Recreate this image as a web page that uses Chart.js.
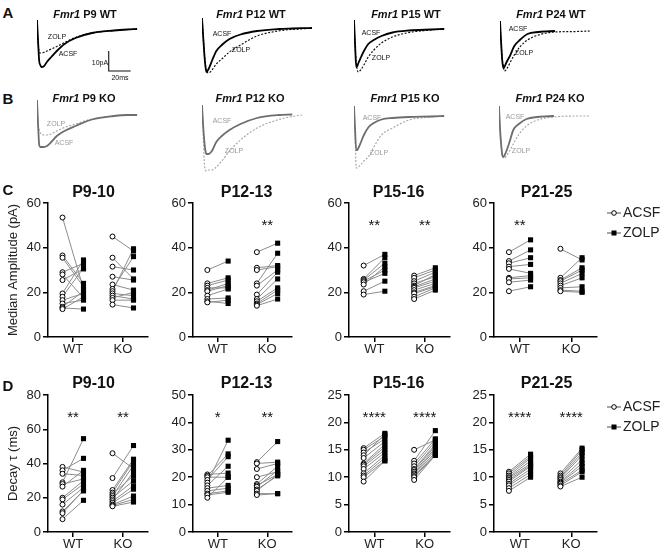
<!DOCTYPE html>
<html><head><meta charset="utf-8">
<script src="https://cdn.jsdelivr.net/npm/chart.js@4.4.1/dist/chart.umd.min.js"></script>
<style>
html,body{margin:0;padding:0;background:#fff;}
#fig{position:relative;width:666px;height:550px;overflow:hidden;font-family:'Liberation Sans',Arial,Helvetica,sans-serif;color:#111;}
canvas{position:absolute;}
.t{position:absolute;transform:translate(-50%,-50%);white-space:nowrap;line-height:1;}
</style></head><body><div id="fig"></div>
<script>
// ---------- DATA ----------
// Panel A/B traces: current (pA) sampled at these times (ms)
const traceTime = [0,1,2,3,4,6,9,13,18,25,35,50,70,82,91,100];
const p9WtAcsf  = [4.5,-6.5,-16,-18,-19,-18.75,-16.5,-14,-11,-7.5,-4.5,-2,-0.75,-0.25,0,null];
const p9WtZolp  = [4.5,-6.5,-11.5,-12,-12,-11.75,-11,-10,-8.75,-6.75,-4.25,-2,-0.75,-0.25,0,null];
const p12WtAcsf = [5.5,-3,-11.5,-18,-21.5,-20,-16,-11,-8,-5,-2.75,-1,0,0.25,0.4,0.5];
const p12WtZolp = [5.5,-3,-11.5,-17.5,-21,-22,-20.5,-17.5,-15,-11.5,-8,-3.5,-0.9,-0.2,0.05,0.5];
const p15WtAcsf = [4.5,-8,-19,-18.5,-17,-14.5,-11,-7.5,-5.5,-3.5,-1.75,-0.75,-0.25,0,null,null];
const p15WtZolp = [4.5,-8,-16.5,-20.5,-21.5,-20.5,-18,-14,-10.5,-7,-4,-1.75,-0.5,0.25,null,null];
const p24WtAcsf = [4,-6.5,-15.5,-19.5,-19,-16.5,-13.5,-8.5,-5.5,-2.5,-1.5,-1,null,null,null,null];
const p24WtZolp = [4,-6.5,-14.5,-18.5,-21,-20,-17,-13,-9,-5.5,-3,-1.5,-1.25,-1,null,null];
const p9KoAcsf  = [7.5,-5,-15,-16,-16,-16,-15.5,-13.5,-10.5,-8,-5.5,-2.25,-0.5,0,0,null];
const p9KoZolp  = [7.5,-5,-7.5,-9,-9.5,-10,-10,-9.5,-8,-6.25,-4.5,-2,-0.5,0,0,null];
const p12KoAcsf = [5,-5,-12.5,-17.5,-19.5,-19.5,-18,-13.5,-10.5,-7.5,-4.5,-1.5,0,0.25,null,null];
const p12KoZolp = [5,-7.5,-22.5,-27.5,-28,-27.5,-27.5,-26,-23,-18,-12.5,-6.5,-2.25,-0.75,0,null];
const p15KoAcsf = [4.5,-7.5,-17.5,-17.5,-16.5,-14,-10,-6.25,-4,-2.25,-1.5,-1,-0.75,-0.5,null,null];
const p15KoZolp = [4.5,-10,-26.5,-26.5,-26,-25,-23,-21,-16,-10,-6.5,-2.5,-1,-0.5,null,null];
const p24KoAcsf = [4.5,-7.5,-15,-20,-21,-19,-14.5,-7.5,-4.5,-2,-1,-0.5,null,null,null,null];
const p24KoZolp = [4.5,-7.5,-15,-20,-21.5,-21,-18.5,-14.5,-9.75,-5.5,-2.5,-1,-0.5,-0.5,null,null];
const scaleBarMs = 20, scaleBarPa = 10;

// Panel C: median amplitude (pA), paired ACSF -> ZOLP
const groups = ['WT','KO'];
const cP9WtAcsf  = [53.5,36.5,35.5,29,28,25.5,19.5,18,16.5,15,13.5,13,12.5];
const cP9WtZolp  = [21.5,24,22.5,33,17.5,30.5,34.5,31,19.5,16.5,20.5,12.5,18];
const cP9KoAcsf  = [45,35.5,31.5,27,23.5,21.5,20.5,19.5,18.5,17.5,16.5,14.5];
const cP9KoZolp  = [38.5,26,30,25.5,21,36,39.5,18.5,17,20,16.5,13];
const cP12WtAcsf = [30,24,23,22,21,20.5,18.5,17,16,15.5];
const cP12WtZolp = [34,26.5,25.5,22,24,23,21.5,17.5,15,16.5];
const cP12KoAcsf = [38,31,30,24,23,19,17,16,15,14.5,14];
const cP12KoZolp = [42,32,31.5,37.5,30,29,26,22,21,19.5,17];
const cP15WtAcsf = [32,26,25.5,25,24.5,23.5,20.5,19];
const cP15WtZolp = [37,35.5,33,30,28.5,31.5,25,20.5];
const cP15KoAcsf = [27.5,26.5,25,24,23,22.5,22,21,20,19.5,18,17];
const cP15KoZolp = [31,30,29,27,28,26,25,24,23,22.5,22,21];
const cP21WtAcsf = [38,34,33,31.5,30.5,26.5,26,24.5,20.5];
const cP21WtZolp = [43.5,39,35.5,32.5,28.5,27.5,26.5,25.5,22.5];
const cP21KoAcsf = [39.5,26.5,25.5,25,24,23,22,21,20.5];
const cP21KoZolp = [34.5,35.5,31,30,28.5,26.5,22.5,20.5,20];
const cStars = [['',''],['','**'],['**','**'],['**','']];
const cAxisMax = [60,60,60,60], cAxisStep = [20,20,20,20];

// Panel D: decay tau (ms)
const dP9WtAcsf  = [38,36,34,29,28,26.5,20,19,16,12,11,7.5];
const dP9WtZolp  = [35,43,33,54.5,31,36,30,28,26,24,24.5,18.5];
const dP9KoAcsf  = [46,31.5,24.5,23,22,21,20,19,18,17,16,15.5,15];
const dP9KoZolp  = [37,50.5,42.5,41.5,33,39,30,35,27,25,21,19,17.5];
const dP12WtAcsf = [21,20.5,20,19,18,17,16,15,14,13.5,12.5];
const dP12WtZolp = [21.5,28.5,20,27.5,33.5,24,17,16,15,14.5,20];
const dP12KoAcsf = [25.5,25,23,20,17.5,17,16.5,15.5,15,14,13.5];
const dP12KoZolp = [33,25.5,25,22,24,21,22.5,20.5,21,14,14];
const dP15WtAcsf = [15.3,15,14.5,14,13.5,12.5,12.3,12,11.5,10.7,10.3,10,9.2];
const dP15WtZolp = [18,17.5,17,17.8,16.5,16,15.5,15,14.5,14,13.5,13,13];
const dP15KoAcsf = [15,13,12.5,12,11.5,11.3,11,10.7,10.5,10.2,10,9.5];
const dP15KoZolp = [16.8,18.5,17,16.5,16,15.7,15.3,15,14.5,14.2,14,14];
const dP21WtAcsf = [11,10.7,10.3,10,9.8,9.5,9.2,8.8,8.5,8,7.5];
const dP21WtZolp = [14.2,13.8,13.5,13,12.5,12.2,12,11.5,11,10.5,10];
const dP21KoAcsf = [10.7,10.3,10,9.8,9.5,9.2,9,8.8,8.5,8.3];
const dP21KoZolp = [15.3,15,14.5,14,13.2,12.5,12,11.3,11,10];
const dStars = [['**','**'],['*','**'],['****','****'],['****','****']];
const dAxisMax = [80,50,25,25], dAxisStep = [20,10,5,5];
const ageTitles = ['P9-10','P12-13','P15-16','P21-25'];
const seriesNames = ['ACSF','ZOLP'];

// ---------- RENDER ----------
const FONT = "'Liberation Sans', Arial, Helvetica, sans-serif";
const fig = document.getElementById('fig');

function addText(html, x, y, size, o = {}) {
  const d = document.createElement('div');
  d.className = 't';
  d.innerHTML = html;
  d.style.left = x + 'px'; d.style.top = y + 'px';
  d.style.fontSize = size + 'px';
  if (o.bold) d.style.fontWeight = 'bold';
  if (o.color) d.style.color = o.color;
  fig.appendChild(d);
}
function makeCanvas(left, top, w, h) {
  const c = document.createElement('canvas');
  c.width = w; c.height = h;
  c.style.left = left + 'px'; c.style.top = top + 'px';
  c.style.width = w + 'px'; c.style.height = h + 'px';
  fig.appendChild(c);
  return c;
}

// ---- traces ----
function makeTrace(left, top, h, yMax, yMin, acsf, zolp, colA, colZ, extra) {
  const c = makeCanvas(left, top, 110, h);
  const pts = arr => traceTime.map((t, i) => ({x: t, y: arr[i]})).filter(p => p.y !== null);
  const ds = [
    {data: pts(zolp), showLine: true, borderColor: colZ, borderWidth: 1.2, borderDash: [2, 1.6],
     pointRadius: 0, cubicInterpolationMode: 'monotone', clip: false, order: 1},
    {data: pts(acsf), showLine: true, borderColor: colA, borderWidth: 1.8,
     pointRadius: 0, cubicInterpolationMode: 'monotone', clip: false, order: 0}
  ];
  if (extra) ds.push(extra);
  new Chart(c, {type: 'scatter', data: {datasets: ds}, options: {
    responsive: false, animation: false, events: [], layout: {padding: 0},
    scales: {x: {type: 'linear', display: false, min: 0, max: 100},
             y: {type: 'linear', display: false, min: yMin, max: yMax}},
    plugins: {legend: {display: false}, tooltip: {enabled: false}}
  }});
}
const sbT = 65.2, sbI = -21;
const scaleBar = {data: [{x: sbT, y: sbI + scaleBarPa}, {x: sbT, y: sbI}, {x: sbT + scaleBarMs, y: sbI}],
  showLine: true, borderColor: '#111', borderWidth: 1.1, pointRadius: 0, tension: 0, clip: false, order: 2};

const rowA = {top: 18, h: 60, max: 5.5, min: -24.5};
const rowB = {top: 98, h: 74, max: 8.5, min: -28.5};
makeTrace(37, rowA.top, rowA.h, rowA.max, rowA.min, p9WtAcsf, p9WtZolp, '#000', '#111', scaleBar);
makeTrace(202, rowA.top, rowA.h, rowA.max, rowA.min, p12WtAcsf, p12WtZolp, '#000', '#111');
makeTrace(354, rowA.top, rowA.h, rowA.max, rowA.min, p15WtAcsf, p15WtZolp, '#000', '#111');
makeTrace(500, rowA.top, rowA.h, rowA.max, rowA.min, p24WtAcsf, p24WtZolp, '#000', '#111');
makeTrace(37, rowB.top, rowB.h, rowB.max, rowB.min, p9KoAcsf, p9KoZolp, '#6e6e6e', '#a8a8a8');
makeTrace(202, rowB.top, rowB.h, rowB.max, rowB.min, p12KoAcsf, p12KoZolp, '#6e6e6e', '#a8a8a8');
makeTrace(354, rowB.top, rowB.h, rowB.max, rowB.min, p15KoAcsf, p15KoZolp, '#6e6e6e', '#a8a8a8');
makeTrace(499, rowB.top, rowB.h, rowB.max, rowB.min, p24KoAcsf, p24KoZolp, '#6e6e6e', '#a8a8a8');

// ---- scatter panels ----
const starPlugin = {
  id: 'stars',
  afterDatasetsDraw(chart, args, opts) {
    const {ctx} = chart; const x = chart.scales.x, y = chart.scales.y;
    ctx.save();
    ctx.font = '15px ' + FONT; ctx.fillStyle = '#111';
    ctx.textAlign = 'center'; ctx.textBaseline = 'alphabetic';
    (opts.marks || []).forEach((s, i) => {
      if (!s) return;
      ctx.fillText(s, x.getPixelForValue(i + 1), y.getPixelForValue(opts.level * y.max) + 8.8);
    });
    ctx.restore();
  }
};
const legendPlugin = {
  id: 'pairLegend',
  afterDraw(chart, args, opts) {
    if (!opts.show) return;
    const {ctx} = chart;
    ctx.save();
    seriesNames.forEach((name, i) => {
      const y = opts.y + i * opts.gap, x = opts.x;
      ctx.strokeStyle = '#6a6a6a'; ctx.lineWidth = 1.2;
      ctx.beginPath(); ctx.moveTo(x - 1, y); ctx.lineTo(x + 13, y); ctx.stroke();
      if (i === 0) {
        ctx.beginPath(); ctx.arc(x + 6, y, 2.3, 0, Math.PI * 2);
        ctx.fillStyle = '#fff'; ctx.fill(); ctx.strokeStyle = '#000'; ctx.lineWidth = 1; ctx.stroke();
      } else {
        ctx.fillStyle = '#000'; ctx.fillRect(x + 3.5, y - 2.5, 5, 5);
      }
      ctx.fillStyle = '#222'; ctx.font = '14px ' + FONT;
      ctx.textAlign = 'left'; ctx.textBaseline = 'middle';
      ctx.fillText(name, x + 15, y + 0.5);
    });
    ctx.restore();
  }
};

function makeScatter(p) {
  const yw = p.yTitle ? p.left : 40;
  const cLeft = p.left - yw;
  const padRight = p.legend ? 666 - p.right : 6;
  const padTop = p.top - p.canvasTop;
  const xh = 25;
  const w = yw + (p.right - p.left) + padRight;
  const h = padTop + (p.bottom - p.top) + xh;
  const c = makeCanvas(cLeft, p.canvasTop, w, h);
  const off = 0.21;
  const ds = [];
  const acsfPts = [], zolpPts = [];
  p.series.forEach(([acsf, zolp], g) => {
    acsf.forEach((v, i) => {
      ds.push({data: [{x: g + 1 - off, y: v}, {x: g + 1 + off, y: zolp[i]}], showLine: true,
        borderColor: '#8c8c8c', borderWidth: 1, pointRadius: 0, order: 3});
      acsfPts.push({x: g + 1 - off, y: v});
      zolpPts.push({x: g + 1 + off, y: zolp[i]});
    });
  });
  ds.push({label: 'ACSF', data: acsfPts, pointStyle: 'circle', pointRadius: 2.5, pointBorderWidth: 1,
    pointBackgroundColor: '#fff', pointBorderColor: '#000', backgroundColor: '#fff', borderColor: '#000', order: 1});
  ds.push({label: 'ZOLP', data: zolpPts, pointStyle: 'rect', pointRadius: 3.6, pointBorderWidth: 0,
    pointBackgroundColor: '#000', pointBorderColor: '#000', backgroundColor: '#000', borderColor: '#000', order: 0});
  const axisCommon = {
    grid: {display: true, drawOnChartArea: false, drawTicks: true, tickLength: 5, color: '#000', lineWidth: 1.5},
    border: {display: true, color: '#000', width: 1.5}
  };
  new Chart(c, {type: 'scatter', data: {datasets: ds}, plugins: [starPlugin, legendPlugin], options: {
    responsive: false, animation: false, events: [],
    layout: {padding: {left: 0, top: padTop, right: padRight, bottom: 0}},
    scales: {
      x: Object.assign({type: 'linear', min: 0.5, max: 2.5,
        afterBuildTicks: s => { s.ticks = groups.map((g, i) => ({value: i + 1})); },
        afterFit: s => { s.height = xh; },
        ticks: {autoSkip: false, maxRotation: 0, padding: 0, color: '#222', font: {size: 13, family: FONT},
          callback: v => groups[Math.round(v) - 1] || ''}}, axisCommon),
      y: Object.assign({type: 'linear', min: 0, max: p.max,
        afterFit: s => { s.width = yw; },
        ticks: {stepSize: p.step, autoSkip: false, padding: 2, color: '#222', font: {size: 13, family: FONT}},
        title: {display: !!p.yTitle, text: p.yTitle || '', color: '#222', font: {size: 13, family: FONT}, padding: {top: 6, bottom: 0}}
      }, axisCommon)
    },
    plugins: {legend: {display: false}, tooltip: {enabled: false},
      stars: {marks: p.stars, level: 0.865},
      pairLegend: {show: !!p.legend, x: 608 - cLeft, y: p.legendY - p.canvasTop, gap: 20}}
  }});
}

const cols = [{left: 48, right: 148}, {left: 193, right: 292}, {left: 349, right: 450}, {left: 494, right: 597}];
const cSeries = [[[cP9WtAcsf, cP9WtZolp], [cP9KoAcsf, cP9KoZolp]], [[cP12WtAcsf, cP12WtZolp], [cP12KoAcsf, cP12KoZolp]],
                 [[cP15WtAcsf, cP15WtZolp], [cP15KoAcsf, cP15KoZolp]], [[cP21WtAcsf, cP21WtZolp], [cP21KoAcsf, cP21KoZolp]]];
const dSeries = [[[dP9WtAcsf, dP9WtZolp], [dP9KoAcsf, dP9KoZolp]], [[dP12WtAcsf, dP12WtZolp], [dP12KoAcsf, dP12KoZolp]],
                 [[dP15WtAcsf, dP15WtZolp], [dP15KoAcsf, dP15KoZolp]], [[dP21WtAcsf, dP21WtZolp], [dP21KoAcsf, dP21KoZolp]]];
cols.forEach((col, i) => {
  makeScatter({left: col.left, right: col.right, top: 203, bottom: 337, canvasTop: 170,
    max: cAxisMax[i], step: cAxisStep[i], series: cSeries[i], stars: cStars[i],
    yTitle: i === 0 ? 'Median Amplitude (pA)' : null, legend: i === 3, legendY: 213});
  makeScatter({left: col.left, right: col.right, top: 395, bottom: 532, canvasTop: 362,
    max: dAxisMax[i], step: dAxisStep[i], series: dSeries[i], stars: dStars[i],
    yTitle: i === 0 ? 'Decay \u03C4 (ms)' : null, legend: i === 3, legendY: 407});
});

// ---- text overlays ----
addText('A', 8, 12, 15, {bold: true});
addText('B', 8, 98, 15, {bold: true});
addText('C', 8, 189, 15, {bold: true});
addText('D', 8, 385, 15, {bold: true});
const traceTitleX = [85, 251, 406, 551];
const traceAges = ['P9', 'P12', 'P15', 'P24'];
traceAges.forEach((a, i) => {
  addText('<i>Fmr1</i> ' + a + ' WT', traceTitleX[i], 14, 11, {bold: true});
  addText('<i>Fmr1</i> ' + a + ' KO', traceTitleX[i] - 1, 98, 11, {bold: true});
});
const titleX = [93.5, 246.5, 398.5, 546.5];
ageTitles.forEach((t, i) => {
  addText(t, titleX[i], 191.5, 16, {bold: true});
  addText(t, titleX[i], 383, 16, {bold: true});
});
// trace labels
const labA = [[57, 36, 68, 53], [241, 49, 222, 33], [381, 57, 371, 32], [524, 52, 518, 28]];
const labB = [[56, 123, 64, 142], [234, 150, 222, 120], [379, 152, 372, 117], [521, 150, 515, 116]];
labA.forEach(l => { addText('ZOLP', l[0], l[1], 7); addText('ACSF', l[2], l[3], 7); });
labB.forEach(l => { addText('ZOLP', l[0], l[1], 7, {color: '#9a9a9a'}); addText('ACSF', l[2], l[3], 7, {color: '#9a9a9a'}); });
addText(scaleBarPa + 'pA', 100, 61.5, 7);
addText(scaleBarMs + 'ms', 120, 77, 7);
</script></body></html>
